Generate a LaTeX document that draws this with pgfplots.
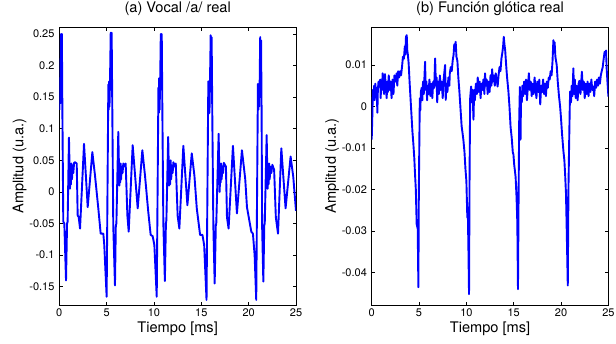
\documentclass[border=0pt]{standalone}
\usepackage{pgfplots}
\pgfplotsset{compat=1.18}
\usepackage{fontspec}
\setmainfont{TeX Gyre Heros}
\definecolor{mblue}{rgb}{0,0,1}
\pgfplotsset{
  mystyle/.style={
    scale only axis, width=236.7pt, height=277.7pt,
    anchor=south west,
    xmin=0, xmax=25,
    xtick={0,5,10,15,20,25},
    scaled x ticks=false, scaled y ticks=false,
    tick align=inside, major tick length=3.5pt,
    axis line style={line width=0.6pt},
    every tick/.style={line width=0.6pt, black},
    /pgf/number format/assume math mode=true,
    tick label style={font=\fontsize{11}{13}\selectfont},
    yticklabel style={xshift=-1.3pt},
    xlabel={Tiempo [ms]},
    ylabel={Amplitud (u.a.)},
    label style={font=\fontsize{14.6}{16}\selectfont},
    xlabel style={at={(axis description cs:0.5,0)}, anchor=base, yshift=-27.5pt},
    ylabel style={at={(axis description cs:-0.1515,0.5)}, anchor=base},
    title style={font=\fontsize{14.6}{16}\selectfont, at={(axis description cs:0.5,1)}, anchor=base, yshift=8.5pt},
    clip=true,
  }
}
\begin{document}
\begin{tikzpicture}
\useasboundingbox (0pt,0pt) rectangle (616pt,343pt);
\begin{axis}[mystyle, at={(59.3pt,38pt)},
  ymin=-0.179, ymax=0.2606,
  ytick={-0.15,-0.1,-0.05,0,0.05,0.1,0.15,0.2,0.25},
  yticklabels={-0.15,-0.1,-0.05,0,0.05,0.1,0.15,0.2,0.25},
  xticklabels={0,5,10,15,20,25},
  title={(a) Vocal /a/ real}]
\addplot[color=mblue, line width=1.9pt, line join=round] coordinates {
(0,0.13) (0.03,0.175) (0.08,0.14) (0.13,0.19) (0.18,0.25) (0.23,0.2) (0.27,0.25) (0.33,0.12) (0.42,-0.047) (0.53,-0.05) (0.71,-0.14) (0.82,-0.05) (0.88,-0.047) (1.02,0.086) (1.13,0.005) (1.18,0.035) (1.23,0.012) (1.28,0.045) (1.34,0.02) (1.4,0.042) (1.48,0.03) (1.56,0.046) (1.66,0.047) (1.84,0.045) (1.94,-0.037) (2.05,-0.04) (2.19,-0.058) (2.61,0.076) (3.0,-0.024) (3.49,0.063) (3.77,0.026) (4.12,-0.026) (4.37,-0.066) (4.65,-0.066) (4.75,-0.084) (5.0,-0.166)
(5.18,0.17) (5.22,0.13) (5.26,0.175) (5.30,0.135) (5.36,0.18) (5.43,0.252) (5.49,0.21) (5.53,0.252) (5.6,0.127) (5.70,-0.053) (5.88,-0.148) (5.97,-0.053) (6.03,-0.05) (6.23,0.095) (6.34,0.01) (6.40,0.035) (6.44,0.015) (6.48,0.045) (6.53,0.02) (6.59,0.04) (6.68,0.03) (6.76,0.045) (6.93,0.04) (7.01,0.045) (7.19,-0.037) (7.33,-0.063) (7.75,0.074) (8.28,-0.026) (8.77,0.066) (9.05,0.026) (9.4,-0.032) (9.65,-0.068) (9.86,-0.07) (10.04,-0.084) (10.29,-0.166)
(10.47,0.165) (10.51,0.125) (10.55,0.18) (10.59,0.13) (10.65,0.17) (10.72,0.25) (10.78,0.2) (10.82,0.25) (10.89,0.12) (10.99,-0.05) (11.15,-0.141) (11.26,-0.05) (11.31,-0.045) (11.5,0.087) (11.6,0.01) (11.65,0.03) (11.7,0.012) (11.76,0.05) (11.82,0.02) (11.88,0.042) (11.97,0.03) (12.05,0.047) (12.2,0.04) (12.3,0.045) (12.5,-0.038) (12.68,-0.058) (13.1,0.073) (13.53,-0.021) (13.99,0.061) (14.27,0.026) (14.52,-0.026) (14.87,-0.068) (15.12,-0.068) (15.3,-0.084) (15.55,-0.171)
(15.74,0.175) (15.78,0.132) (15.82,0.175) (15.86,0.125) (15.92,0.18) (15.99,0.248) (16.05,0.2) (16.09,0.245) (16.16,0.12) (16.27,-0.053) (16.41,-0.145) (16.53,-0.053) (16.58,-0.05) (16.83,0.092) (16.94,0.0) (16.99,0.035) (17.04,0.015) (17.09,0.045) (17.15,0.02) (17.21,0.04) (17.3,0.03) (17.38,0.046) (17.6,0.04) (17.71,-0.04) (17.88,-0.058) (18.34,0.073) (18.76,-0.034) (19.29,0.066) (19.64,0.02) (19.82,-0.024) (20.28,-0.063) (20.45,-0.066) (20.63,-0.1) (20.8,-0.171)
(20.98,0.171) (21.02,0.13) (21.06,0.17) (21.1,0.135) (21.16,0.17) (21.22,0.245) (21.28,0.2) (21.31,0.24) (21.37,0.12) (21.42,-0.053) (21.55,-0.142) (21.65,-0.053) (21.7,-0.05) (21.9,0.09) (22.0,0.005) (22.05,0.035) (22.1,0.012) (22.16,0.045) (22.22,0.02) (22.3,0.04) (22.4,0.03) (22.5,0.043) (22.69,0.035) (22.87,-0.04) (23.1,-0.066) (23.45,0.069) (23.9,-0.026) (24.43,0.056) (24.71,0.024) (25.0,-0.03)
};
\end{axis}
\begin{axis}[mystyle, at={(371.7pt,38pt)},
  ymin=-0.0479, ymax=0.0191,
  ytick={-0.04,-0.03,-0.02,-0.01,0,0.01},
  yticklabels={-0.04,-0.03,-0.02,-0.01,0,0.01},
  xticklabels={0,5,10,15,20,25},
  title={(b) Función glótica real}]
\addplot[color=mblue, line width=1.9pt, line join=round] coordinates {
(0,-0.008) (0.07,-0.002) (0.12,0.004) (0.2,0.002) (0.25,0.005) (0.3,0.0015) (0.38,0.0055) (0.45,0.003) (0.52,0.0045) (0.6,-0.0015) (0.65,0.004) (0.72,0.006) (0.8,0.005) (0.9,0.0065) (0.95,0.002) (1.0,0.006) (1.1,0.004) (1.15,0.008) (1.3,0.003) (1.4,0.0078) (1.5,0.0045) (1.58,0.002) (1.65,0.006) (1.72,0.0035) (1.8,0.0075) (1.9,0.004) (2.0,0.006) (2.1,0.002) (2.2,0.0065) (2.3,0.003) (2.4,0.0075) (2.5,0.006) (2.64,0.008) (2.7,0.005) (2.8,0.0085) (2.9,0.007) (3.0,0.0085) (3.1,0.0075) (3.2,0.0095) (3.3,0.012) (3.4,0.0115) (3.5,0.0145) (3.55,0.0125) (3.62,0.0168) (3.7,0.0172) (3.76,0.0135) (3.82,0.0125) (3.9,0.0105) (4.0,0.006) (4.1,0.002) (4.2,-0.002) (4.3,-0.006) (4.4,-0.009) (4.5,-0.0125) (4.58,-0.0165) (4.66,-0.02) (4.75,-0.0284) (4.86,-0.0295) (4.93,-0.0436) (4.98,-0.02) (5.03,-0.009) (5.08,0.002) (5.13,-0.001) (5.2,0.0036)
(5.28,0.0045) (5.35,0.0015) (5.42,0.006) (5.5,0.003) (5.57,0.007) (5.64,0.0108) (5.7,0.004) (5.78,0.006) (5.85,0.0015) (5.92,0.005) (6.0,0.003) (6.1,0.0065) (6.2,0.0025) (6.3,0.0055) (6.4,0.002) (6.5,0.006) (6.6,0.0045) (6.7,0.0116) (6.78,0.005) (6.85,0.007) (6.92,0.001) (7.0,0.006) (7.1,0.003) (7.2,0.0075) (7.3,0.004) (7.4,0.006) (7.5,0.002) (7.6,0.0065) (7.75,0.010) (7.82,0.0016) (7.9,0.0055) (8.0,0.0035) (8.1,0.007) (8.2,0.005) (8.25,0.008) (8.35,0.0095) (8.45,0.0085) (8.55,0.011) (8.65,0.0125) (8.72,0.015) (8.8,0.0145) (8.87,0.0156) (8.95,0.012) (9.05,0.011) (9.15,0.007) (9.25,0.004) (9.35,0.0005) (9.5,-0.0048) (9.6,-0.0065) (9.68,-0.008) (9.8,-0.011) (9.9,-0.015) (10.0,-0.018) (10.1,-0.0268) (10.15,-0.025) (10.22,-0.035) (10.28,-0.0453) (10.34,-0.015) (10.4,0.002)
(10.5,0.0048) (10.58,0.001) (10.65,0.004) (10.75,-0.0032) (10.82,0.004) (10.9,0.0015) (11.0,0.0055) (11.1,0.003) (11.2,0.007) (11.3,0.0035) (11.4,0.006) (11.5,0.002) (11.6,0.0055) (11.7,0.004) (11.8,0.0065) (11.9,0.003) (11.97,0.008) (12.05,0.005) (12.15,0.0065) (12.25,0.003) (12.35,0.006) (12.45,0.0035) (12.55,0.0075) (12.65,0.005) (12.72,0.009) (12.8,0.006) (12.9,0.0075) (13.0,0.005) (13.1,0.008) (13.2,0.0065) (13.3,0.0048) (13.4,0.0075) (13.5,0.0095) (13.6,0.0085) (13.7,0.0115) (13.8,0.013) (13.88,0.0145) (13.95,0.0168) (14.02,0.015) (14.1,0.0135) (14.2,0.01) (14.3,0.007) (14.44,0.0036) (14.55,0.0) (14.67,-0.005) (14.79,-0.0076) (14.9,-0.011) (14.97,-0.0116) (15.05,-0.014) (15.2,-0.017) (15.3,-0.022) (15.38,-0.028) (15.45,-0.0441) (15.52,-0.02) (15.58,-0.003) (15.65,0.0047) (15.72,-0.008) (15.78,0.0036)
(15.85,0.001) (15.92,0.005) (16.0,0.0025) (16.1,0.006) (16.2,0.003) (16.3,0.0065) (16.4,0.0015) (16.5,0.005) (16.6,0.008) (16.7,0.004) (16.8,0.006) (16.9,0.0025) (17.0,0.0055) (17.1,0.003) (17.2,0.007) (17.3,0.0045) (17.4,0.002) (17.5,0.006) (17.6,0.0035) (17.7,0.0065) (17.8,0.0005) (17.9,0.005) (18.0,0.0035) (18.1,0.0065) (18.2,0.003) (18.3,0.0055) (18.4,0.0025) (18.5,0.006) (18.6,0.0045) (18.7,0.007) (18.8,0.0065) (18.9,0.0085) (19.0,0.0075) (19.1,0.011) (19.19,0.016) (19.25,0.014) (19.32,0.0155) (19.4,0.012) (19.54,0.010) (19.65,0.006) (19.78,0.0025) (19.9,0.0) (20.0,-0.003) (20.1,-0.0065) (20.25,-0.0108) (20.35,-0.013) (20.43,-0.0164) (20.52,-0.021) (20.6,-0.03) (20.71,-0.0432) (20.78,-0.02) (20.86,-0.008) (20.92,0.0) (20.96,0.0036)
(21.05,0.001) (21.12,0.005) (21.2,0.0025) (21.3,0.0092) (21.37,0.003) (21.45,0.0065) (21.55,0.002) (21.65,0.005) (21.75,0.0015) (21.85,0.0055) (21.94,0.0062) (22.05,0.003) (22.2,0.0084) (22.3,0.004) (22.4,0.006) (22.5,0.002) (22.6,0.0055) (22.7,0.003) (22.8,0.006) (22.9,0.0025) (23.0,0.0055) (23.1,0.0035) (23.2,0.0065) (23.3,0.004) (23.4,0.0048) (23.5,0.0025) (23.6,0.006) (23.7,0.0045) (23.8,0.0065) (23.9,0.005) (24.0,0.007) (24.1,0.0055) (24.2,0.0075) (24.3,0.0086) (24.4,0.0095) (24.5,0.0115) (24.6,0.0132) (24.68,0.0125) (24.75,0.0135) (24.82,0.009) (24.9,0.006) (25.0,0.0024)
};
\end{axis}
\end{tikzpicture}
\end{document}
